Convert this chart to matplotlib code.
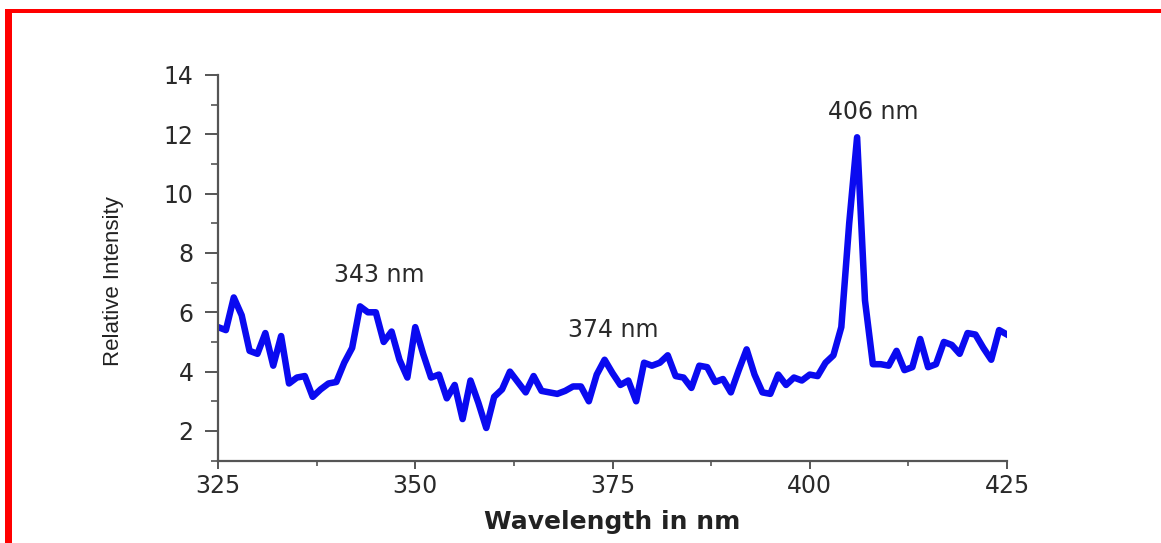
import matplotlib
matplotlib.use("Agg")
import matplotlib.pyplot as plt
from matplotlib.patches import Rectangle
from matplotlib.ticker import MultipleLocator

wavelength = list(range(325, 426))
intensity = [
    5.5, 5.4, 6.5, 5.9, 4.7, 4.6, 5.3, 4.2, 5.2, 3.6,
    3.8, 3.85, 3.15, 3.4, 3.6, 3.65, 4.3, 4.8, 6.2, 6.0,
    6.0, 5.0, 5.35, 4.4, 3.8, 5.5, 4.6, 3.8, 3.9, 3.1,
    3.55, 2.4, 3.7, 2.95, 2.1, 3.15, 3.4, 4.0, 3.65, 3.3,
    3.85, 3.35, 3.3, 3.25, 3.35, 3.5, 3.5, 3.0, 3.9, 4.4,
    3.95, 3.55, 3.7, 3.0, 4.3, 4.2, 4.3, 4.55, 3.85, 3.8,
    3.45, 4.2, 4.15, 3.65, 3.75, 3.3, 4.05, 4.75, 3.9, 3.3,
    3.25, 3.9, 3.55, 3.8, 3.7, 3.9, 3.85, 4.3, 4.55, 5.5,
    9.0, 11.9, 6.4, 4.25, 4.25, 4.2, 4.7, 4.05, 4.15, 5.1,
    4.15, 4.25, 5.0, 4.9, 4.6, 5.3, 5.25, 4.8, 4.4, 5.4,
    5.25,
]
x_ticks = [325, 350, 375, 400, 425]
y_ticks = [2, 4, 6, 8, 10, 12, 14]
peak_labels = ["343 nm", "374 nm", "406 nm"]
peak_label_pos = [(345.5, 7.25), (375.1, 5.4), (408.0, 12.75)]

plt.rcParams['font.family'] = ['DejaVu Sans']

fig = plt.figure(figsize=(11.61, 5.43), dpi=100)
fig.patch.set_facecolor('white')
ax = fig.add_axes([218/1161, 1 - 460.6/543, (1007-218)/1161, (460.6-75)/543])

ax.plot(wavelength, intensity, color='#0a0af0', linewidth=4.7, solid_joinstyle='round')

ax.set_xlim(325, 425)
ax.set_ylim(1, 14)
ax.set_xticks(x_ticks)
ax.set_yticks(y_ticks)
ax.xaxis.set_minor_locator(MultipleLocator(12.5))
ax.yaxis.set_minor_locator(MultipleLocator(1))

spine_color = '#555555'
for s in ['top', 'right']:
    ax.spines[s].set_visible(False)
for s in ['left', 'bottom']:
    ax.spines[s].set_color(spine_color)
    ax.spines[s].set_linewidth(1.6)

ax.tick_params(axis='x', which='major', direction='out', length=6, width=1.4,
               color=spine_color, labelsize=17, labelcolor='#2a2a2a', pad=4)
ax.tick_params(axis='x', which='minor', direction='out', length=3.5, width=1.2,
               color=spine_color)
ax.tick_params(axis='y', which='major', direction='out', length=9.5, width=1.4,
               color=spine_color, labelsize=17, labelcolor='#2a2a2a', pad=8)
ax.tick_params(axis='y', which='minor', direction='out', length=5, width=1.2,
               color=spine_color)

ax.set_xlabel("Wavelength in nm", fontsize=18, fontweight='bold', color='#222222')
ax.xaxis.set_label_coords(0.499, -0.159)
ax.set_ylabel("Relative Intensity", fontsize=16, color='#222222', family=['Liberation Sans', 'DejaVu Sans'])
ax.yaxis.set_label_coords(-0.132, 0.466)
ax.xaxis.label.set_verticalalignment('center')
ax.yaxis.label.set_verticalalignment('center')

for label, (lx, ly) in zip(peak_labels, peak_label_pos):
    ax.text(lx, ly, label, fontsize=17, color='#2a2a2a', ha='center', va='center')

# red frame (left and top edges)
fig.add_artist(Rectangle((5/1161, 0), 7.5/1161, 1 - 8.7/543, transform=fig.transFigure,
                         facecolor='#ff0000', edgecolor='none'))
fig.add_artist(Rectangle((5/1161, 1 - 13.3/543), 1 - 5/1161, 4.6/543, transform=fig.transFigure,
                         facecolor='#ff0000', edgecolor='none'))

fig.savefig("out.png", dpi=100, facecolor='white')
